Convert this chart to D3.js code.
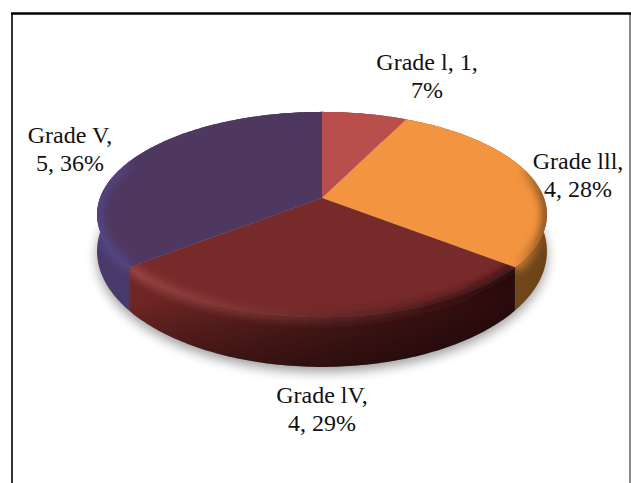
<!DOCTYPE html>
<html>
<head>
<meta charset="utf-8">
<title>Grades pie</title>
<script src="https://d3js.org/d3.v7.min.js"></script>
<style>
  html, body { margin: 0; padding: 0; background: #fff; overflow: hidden; }
  svg { display: block; }
  text { font-family: "Liberation Serif", serif; font-size: 24px; fill: #111; }
</style>
</head>
<body>
<svg id="chart" width="631" height="483"></svg>
<script>
// data
var grades = ["Grade l", "Grade lll", "Grade lV", "Grade V"];
var counts = [1, 4, 4, 5];
var percents = [7, 28, 29, 36];
var topColors = ["#b94f4c", "#f39440", "#772a2a", "#4f3860"];
var sideLeft = ["#8a3a38", "#8a5a24", "#702725", "#483a6a"];
var sideRight = ["#8a3a38", "#6b4318", "#2a0a0c", "#463564"];
var rimLeft = ["#b94f4c", "#f39440", "#a04a48", "#54468a"];
var rimRight = ["#8a3a38", "#6b4318", "#2a0a0c", "#54468a"];

var width = 631, height = 483;
var cx = 322, cy = 198;       // where the slices meet
var rx = 222, ry = 100;       // disc radius on screen
var persp = 0.161;            // how much the front of the disc swells
var depth = 35;               // thickness of the pie

var svg = d3.select("#chart");
var defs = svg.append("defs");

// disc angle -> screen point, with a small perspective
function project(a, drop) {
	var u = Math.sin(a), v = -Math.cos(a);
	var s = 1 / (1 - persp * v);
	return [cx + rx * u * s, cy + ry * v * s + (drop ? depth * s * s : 0)];
}

function arcPoints(a0, a1, drop) {
	var n = Math.max(2, Math.ceil((a1 - a0) * 60));
	return d3.range(n + 1).map(function(i) {
		return project(a0 + (a1 - a0) * i / n, drop);
	});
}

var line = d3.line();
var slices = d3.pie().sort(null)(counts);

defs.append("filter").attr("id", "blurShadow")
	.attr("x", "-20%").attr("y", "-40%").attr("width", "140%").attr("height", "180%")
  .append("feGaussianBlur").attr("stdDeviation", 6);
defs.append("filter").attr("id", "blurRim")
	.attr("filterUnits", "userSpaceOnUse")
	.attr("x", 0).attr("y", 0).attr("width", width).attr("height", height)
  .append("feGaussianBlur").attr("stdDeviation", 4);

function hGradient(id, from, to, x0, x1) {
	var g = defs.append("linearGradient").attr("id", id)
		.attr("gradientUnits", "userSpaceOnUse")
		.attr("x1", x0).attr("x2", x1).attr("y1", 0).attr("y2", 0);
	g.append("stop").attr("offset", "0%").attr("stop-color", from);
	g.append("stop").attr("offset", "100%").attr("stop-color", to);
}

// frame of the figure, the picture cuts it off at the bottom
svg.append("line")
	.attr("x1", 630).attr("x2", 630).attr("y1", 13).attr("y2", height)
	.attr("stroke", "#888").attr("stroke-width", 2);
svg.append("line")
	.attr("x1", 12).attr("x2", 12).attr("y1", 13).attr("y2", height)
	.attr("stroke", "#333").attr("stroke-width", 2);
svg.append("line")
	.attr("x1", 11).attr("x2", 631).attr("y1", 13.5).attr("y2", 13.5)
	.attr("stroke", "#000").attr("stroke-width", 2.5);

// soft shadow under the pie
svg.append("path")
	.attr("d", line(arcPoints(0, 2 * Math.PI, true)) + "Z")
	.attr("transform", "translate(0,5)")
	.attr("fill", "#000").attr("opacity", 0.38)
	.attr("filter", "url(#blurShadow)");

// side wall
slices.forEach(function(d, i) {
	var id = "side" + i;
	var xs = arcPoints(d.startAngle, d.endAngle).map(function(p) { return p[0]; });
	hGradient(id, sideLeft[i], sideRight[i], d3.min(xs), d3.max(xs));
	var pts = arcPoints(d.startAngle, d.endAngle).concat(arcPoints(d.startAngle, d.endAngle, true).reverse());
	svg.append("path")
		.attr("d", line(pts) + "Z")
		.attr("fill", "url(#" + id + ")");
});

// darker lower part of the wall on the front slice
var shade = defs.append("linearGradient").attr("id", "wallShade")
	.attr("gradientUnits", "userSpaceOnUse")
	.attr("x1", 0).attr("x2", 0).attr("y1", 300).attr("y2", 367);
shade.append("stop").attr("offset", "0%").attr("stop-color", "#000").attr("stop-opacity", 0);
shade.append("stop").attr("offset", "100%").attr("stop-color", "#000").attr("stop-opacity", 0.4);
var front = slices[2];
svg.append("path")
	.attr("d", line(arcPoints(front.startAngle, front.endAngle).concat(arcPoints(front.startAngle, front.endAngle, true).reverse())) + "Z")
	.attr("fill", "url(#wallShade)");

// top of the pie, bevel only on the front part of the rim
var bevelFrom = Math.PI * 0.4, bevelTo = Math.PI * 1.62;
slices.forEach(function(d, i) {
	var rim = arcPoints(d.startAngle, d.endAngle);
	var wedge = line([[cx, cy]].concat(rim)) + "Z";
	var wall = line(rim.concat(arcPoints(d.startAngle, d.endAngle, true).reverse())) + "Z";

	svg.append("path").attr("d", wedge).attr("fill", topColors[i]);

	var a0 = Math.max(d.startAngle, bevelFrom), a1 = Math.min(d.endAngle, bevelTo);
	if (a1 <= a0) return;
	defs.append("clipPath").attr("id", "clip" + i)
	  .append("path").attr("d", wedge + wall);
	var band = arcPoints(a0, a1);
	var xs = band.map(function(p) { return p[0]; });
	hGradient("rim" + i, rimLeft[i], rimRight[i], d3.min(xs), d3.max(xs));
	svg.append("g").attr("clip-path", "url(#clip" + i + ")")
	  .append("path")
		.attr("d", line(band))
		.attr("fill", "none")
		.attr("stroke", "url(#rim" + i + ")")
		.attr("stroke-width", 9)
		.attr("filter", "url(#blurRim)");
});

// labels, the line break differs from slice to slice
var labelLines = [
	[grades[0] + ", " + counts[0] + ",", percents[0] + "%"],
	[grades[1] + ",", counts[1] + ", " + percents[1] + "%"],
	[grades[2] + ",", counts[2] + ", " + percents[2] + "%"],
	[grades[3] + ",", counts[3] + ", " + percents[3] + "%"]
];
var labelX = [427, 578, 322, 70];
var labelY = [70, 169, 403, 143];

labelLines.forEach(function(lines, i) {
	var t = svg.append("text").attr("text-anchor", "middle");
	lines.forEach(function(s, j) {
		t.append("tspan").attr("x", labelX[i]).attr("y", labelY[i] + j * 27.5).text(s);
	});
});
</script>
</body>
</html>
